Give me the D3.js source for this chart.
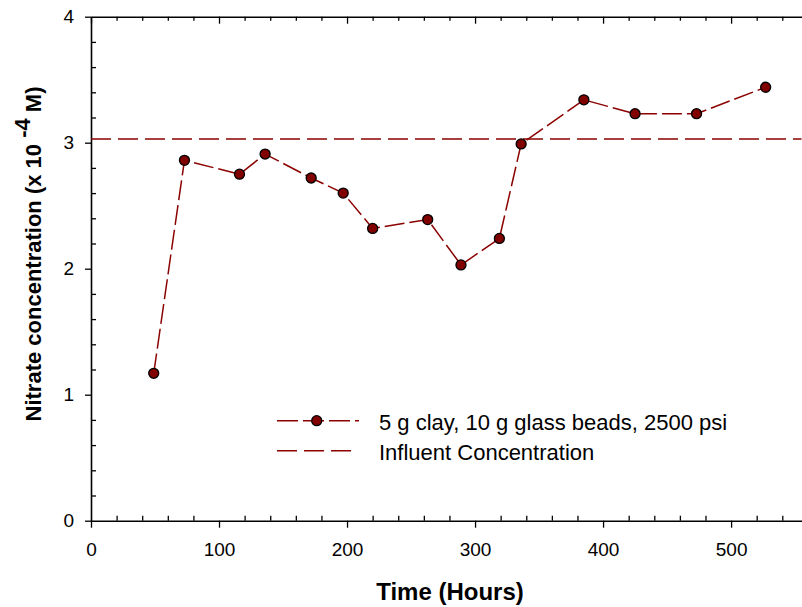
<!DOCTYPE html>
<head>
<style>
body { margin: 0; background: #fff; }
* { font-family: "Liberation Sans", Arial, sans-serif; }
</style>
</head>
<body>
<svg width="802" height="607"></svg>
<script src="https://d3js.org/d3.v7.min.js"></script>
<script>

var hours = [49, 73, 116, 136, 172, 197, 220, 263, 289, 319, 336, 385, 425, 473, 527];
var nitrate = [1.17, 2.86, 2.75, 2.91, 2.72, 2.60, 2.32, 2.39, 2.03, 2.24, 2.99, 3.34, 3.23, 3.23, 3.44];
var influent = 3.03;
var xTicks = [0, 100, 200, 300, 400, 500];
var yTicks = [0, 1, 2, 3, 4];
var seriesNames = ["5 g clay, 10 g glass beads, 2500 psi", "Influent Concentration"];

var red = "#8b0000";
var svg = d3.select("svg");

var x = d3.scaleLinear().domain([0, 555]).range([91, 801.5]);
var y = d3.scaleLinear().domain([0, 4]).range([520.7, 16.7]);

var minorX = d3.range(0, 556, 20).filter(function(d) { return d % 100; });
var minorY = d3.range(0, 4.01, 0.2).filter(function(d) { return Math.abs(d - Math.round(d)) > 0.01; });

function styleAxis(g) {
  g.selectAll("path").attr("stroke", "#000").attr("stroke-width", 1.6);
  g.selectAll("line").attr("stroke", "#000").attr("stroke-width", 1.3);
  g.selectAll("text").attr("font-size", 19).attr("fill", "#000")
    .attr("font-family", "Liberation Sans, Arial, sans-serif");
}

// bottom axis
svg.append("g").attr("transform", "translate(0," + y(0) + ")")
  .call(d3.axisBottom(x).tickValues(xTicks).tickSizeInner(7).tickSizeOuter(0).tickPadding(15))
  .call(styleAxis);
svg.append("g").attr("transform", "translate(0," + y(0) + ")")
  .call(d3.axisBottom(x).tickValues(minorX).tickSize(-5).tickFormat(""))
  .call(styleAxis).select("path").remove();

// top axis
svg.append("g").attr("transform", "translate(0," + y(4) + ")")
  .call(d3.axisTop(x).tickValues(xTicks).tickSizeInner(-7).tickSizeOuter(0).tickFormat(""))
  .call(styleAxis);
svg.append("g").attr("transform", "translate(0," + y(4) + ")")
  .call(d3.axisTop(x).tickValues(minorX).tickSize(-4).tickFormat(""))
  .call(styleAxis).select("path").remove();

// left axis
svg.append("g").attr("transform", "translate(" + x(0) + ",0)")
  .call(d3.axisLeft(y).tickValues(yTicks).tickSizeInner(6).tickSizeOuter(0).tickPadding(11).tickFormat(d3.format("d")))
  .call(styleAxis);
svg.append("g").attr("transform", "translate(" + x(0) + ",0)")
  .call(d3.axisLeft(y).tickValues(minorY).tickSize(-5).tickFormat(""))
  .call(styleAxis).select("path").remove();

// influent line
svg.append("line")
  .attr("x1", x(0)).attr("x2", x(555))
  .attr("y1", y(influent)).attr("y2", y(influent))
  .attr("stroke", red).attr("stroke-width", 1.5).attr("stroke-dasharray", "20,7");

// series
var pts = hours.map(function(h, i) { return [h, nitrate[i]]; });
svg.append("path")
  .attr("d", d3.line().x(function(d) { return x(d[0]); }).y(function(d) { return y(d[1]); })(pts))
  .attr("fill", "none").attr("stroke", red).attr("stroke-width", 1.5)
  .attr("stroke-dasharray", "20,5");

svg.selectAll(".pt").data(pts).enter().append("circle")
  .attr("class", "pt")
  .attr("cx", function(d) { return x(d[0]); })
  .attr("cy", function(d) { return y(d[1]); })
  .attr("r", 5)
  .attr("fill", "#800000").attr("stroke", "#000").attr("stroke-width", 1.3);

// legend
var lg = svg.append("g");
lg.append("line").attr("x1", 277).attr("x2", 359).attr("y1", 420.7).attr("y2", 420.7)
  .attr("stroke", red).attr("stroke-width", 1.5).attr("stroke-dasharray", "21,5");
lg.append("circle").attr("cx", 316.7).attr("cy", 420.7).attr("r", 5)
  .attr("fill", "#800000").attr("stroke", "#000").attr("stroke-width", 1.3);
lg.append("line").attr("x1", 277).attr("x2", 351).attr("y1", 450.7).attr("y2", 450.7)
  .attr("stroke", red).attr("stroke-width", 1.5).attr("stroke-dasharray", "20,7");
lg.selectAll("text").data(seriesNames).enter().append("text")
  .attr("x", 379).attr("y", function(d, i) { return 429.5 + i * 30; })
  .attr("font-size", 22).attr("fill", "#000")
  .text(function(d) { return d; });

// axis titles
svg.append("text")
  .attr("x", 450).attr("y", 600).attr("text-anchor", "middle")
  .attr("font-size", 24).attr("font-weight", "bold")
  .text("Time (Hours)");

var yt = svg.append("text")
  .attr("transform", "translate(41,254) rotate(-90)")
  .attr("text-anchor", "middle")
  .attr("font-size", 22).attr("font-weight", "bold");
yt.append("tspan").text("Nitrate concentration (x 10 ");
yt.append("tspan").attr("dy", -11).text("-4");
yt.append("tspan").attr("dy", 11).text(" M)");

</script>
</body>
